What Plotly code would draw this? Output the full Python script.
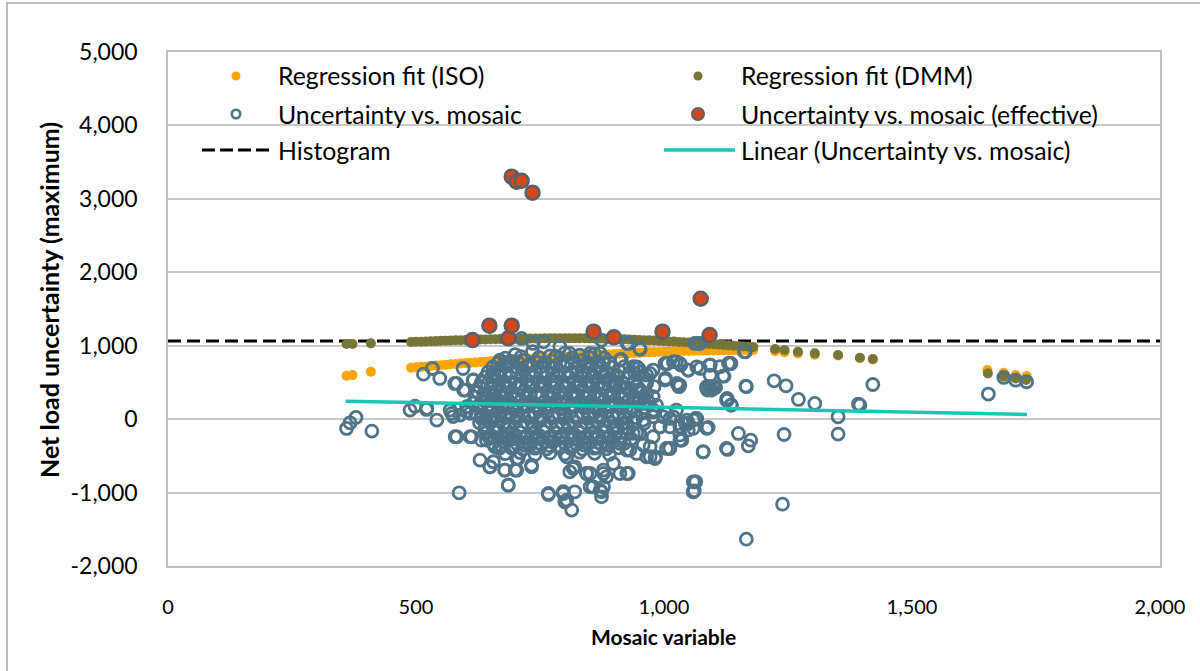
import plotly.graph_objects as go

# ---------------- data ----------------
# Regression fit (ISO)
iso_x = [360, 372, 409,
         490, 500, 510, 520, 530, 540, 550, 560, 570, 580, 590, 600, 610, 620, 630, 640,
         650, 660, 670, 680, 690, 700, 710, 720, 730, 740, 750, 760, 770, 780, 790, 800,
         810, 820, 830, 840, 850, 860, 870, 880, 890, 900, 910, 920, 930, 940, 950, 960,
         970, 980, 990, 1000, 1010, 1020, 1030, 1040, 1050, 1060, 1070, 1080, 1090, 1100,
         1110, 1120, 1130, 1140, 1150, 1160, 1170, 1180,
         1224, 1243, 1270, 1304, 1351, 1395, 1421, 1652, 1685, 1709, 1731]
iso_y = [590, 600, 645,
         700, 706, 712, 718, 724, 730, 735, 741, 747, 752, 757, 763, 768, 773, 778, 783,
         788, 792, 797, 801, 806, 810, 814, 818, 822, 826, 831, 835, 839, 844, 848, 851,
         855, 858, 861, 865, 868, 871, 875, 878, 882, 886, 890, 893, 897, 900, 903, 907,
         910, 913, 915, 918, 920, 923, 925, 927, 928, 930, 932, 933, 935, 936,
         937, 938, 939, 939, 940, 940, 940, 940,
         925, 912, 895, 876, 866, 832, 814, 668, 631, 600, 586]

# Regression fit (DMM)
dmm_x = [360, 372, 409,
         490, 500, 510, 520, 530, 540, 550, 560, 570, 580, 590, 600, 610, 620, 630, 640,
         650, 660, 670, 680, 690, 700, 710, 720, 730, 740, 750, 760, 770, 780, 790, 800,
         810, 820, 830, 840, 850, 860, 870, 880, 890, 900, 910, 920, 930, 940, 950, 960,
         970, 980, 990, 1000, 1010, 1020, 1030, 1040, 1050, 1060, 1070, 1080, 1090, 1100,
         1110, 1120, 1130, 1140, 1150, 1160, 1170, 1180,
         1224, 1243, 1270, 1304, 1351, 1395, 1421, 1653, 1685, 1709, 1730]
dmm_y = [1023, 1023, 1032,
         1050, 1053, 1055, 1058, 1061, 1063, 1066, 1069, 1071, 1074, 1076, 1078, 1080, 1082, 1084, 1086,
         1087, 1089, 1090, 1091, 1093, 1094, 1095, 1096, 1097, 1098, 1099, 1100, 1101, 1101, 1102, 1102,
         1102, 1102, 1101, 1101, 1100, 1099, 1097, 1096, 1094, 1092, 1090, 1087, 1085, 1082, 1079, 1076,
         1073, 1070, 1066, 1063, 1059, 1056, 1052, 1048, 1044, 1040, 1035, 1030, 1025, 1020,
         1015, 1010, 1005, 1001, 996, 991, 987, 982,
         955, 941, 918, 896, 873, 837, 819, 623, 578, 555, 533]

# Uncertainty vs. mosaic - dense core (main rows)
core_x = [700, 735, 770, 800, 830, 860,
          665, 690, 715, 745, 775, 805, 835, 865, 890,
          645, 668, 692, 716, 740, 764, 788, 812, 836, 860, 884, 910, 930,
          632, 655, 678, 700, 724, 748, 772, 796, 820, 844, 868, 892, 916, 940,
          625, 648, 670, 694, 718, 742, 766, 790, 814, 838, 862, 886, 910, 934, 955,
          615, 640, 662, 686, 710, 734, 758, 782, 806, 830, 854, 878, 902, 926, 950, 968,
          620, 645, 668, 692, 716, 740, 764, 788, 812, 836, 860, 884, 908, 932, 956, 978,
          628, 652, 676, 700, 724, 748, 772, 796, 820, 844, 868, 892, 916, 940, 960,
          638, 662, 686, 710, 734, 758, 782, 806, 830, 854, 878, 902, 926, 945,
          655, 680, 704, 728, 752, 776, 800, 824, 848, 872, 896, 920,
          680, 710, 740, 770, 800, 830, 860, 890]
core_y = [880, 920, 860, 900, 870, 890,
          760, 790, 800, 770, 790, 760, 800, 780, 770,
          640, 660, 630, 670, 650, 640, 660, 630, 650, 670, 640, 655, 630,
          500, 520, 510, 490, 520, 500, 515, 495, 525, 505, 490, 515, 500, 520,
          370, 350, 380, 360, 375, 350, 365, 385, 355, 370, 360, 380, 355, 375, 360,
          220, 240, 230, 215, 245, 225, 235, 210, 240, 220, 230, 245, 215, 235, 225, 240,
          80, 100, 90, 75, 105, 85, 95, 70, 100, 80, 90, 105, 80, 95, 85, 100,
          -50, -35, -60, -40, -55, -30, -45, -65, -40, -55, -35, -50, -60, -40, -55,
          -190, -175, -200, -180, -195, -170, -185, -205, -180, -195, -175, -190, -200, -185,
          -330, -315, -340, -320, -335, -310, -325, -345, -320, -335, -315, -330,
          -470, -455, -480, -460, -475, -450, -465, -480]

# Uncertainty vs. mosaic - dense core (in-between rows)
core2_x = [680, 712, 748, 782, 815, 848, 880,
           655, 680, 704, 728, 752, 776, 800, 824, 848, 872, 897, 920,
           640, 666, 690, 712, 736, 760, 784, 808, 832, 856, 880, 904, 928,
           628, 652, 682, 706, 730, 754, 778, 802, 826, 850, 874, 898, 922, 946,
           620, 644, 674, 698, 722, 746, 770, 794, 818, 842, 866, 890, 914, 938, 960,
           628, 652, 674, 698, 722, 746, 770, 794, 818, 842, 866, 890, 914, 938, 962,
           632, 656, 680, 704, 728, 752, 776, 800, 824, 848, 872, 896, 920, 944,
           640, 664, 688, 712, 736, 760, 784, 808, 832, 856, 880, 904, 928,
           648, 672, 696, 720, 744, 768, 792, 816, 840, 864, 888, 912, 934,
           668, 692, 716, 740, 764, 788, 812, 836, 860, 884, 908]
core2_y = [830, 850, 840, 855, 835, 845, 830,
           710, 720, 700, 725, 715, 705, 720, 700, 715, 725, 705, 715,
           575, 590, 570, 585, 580, 565, 590, 575, 585, 570, 580, 590, 570,
           440, 430, 445, 425, 440, 450, 430, 445, 435, 450, 425, 440, 430, 445,
           300, 290, 305, 285, 300, 310, 295, 290, 305, 285, 300, 310, 290, 300, 295,
           160, 150, 165, 155, 170, 150, 160, 145, 165, 155, 160, 170, 150, 160, 155,
           20, 10, 25, 15, 30, 5, 20, 10, 25, 15, 20, 30, 10, 20,
           -120, -110, -125, -105, -130, -115, -120, -110, -125, -115, -105, -120, -130,
           -260, -250, -270, -255, -265, -245, -260, -275, -250, -265, -255, -260, -270,
           -400, -390, -410, -395, -405, -385, -400, -410, -395, -405, -390]

# Uncertainty vs. mosaic - dense core (innermost fill)
core3_x = [680, 705, 730, 760, 790, 820, 850, 878,
           657, 680, 704, 728, 752, 776, 800, 824, 848, 872, 897,
           644, 667, 690, 712, 736, 760, 784, 808, 832, 856, 880, 904,
           636, 660, 682, 706, 730, 754, 778, 802, 826, 850, 874, 898, 922,
           628, 652, 674, 698, 722, 746, 770, 794, 818, 842, 866, 890, 914,
           632, 656, 680, 704, 728, 752, 776, 800, 824, 848, 872, 896, 920,
           640, 664, 688, 712, 736, 760, 784, 808, 832, 856, 880, 904,
           652, 676, 700, 724, 748, 772, 796, 820, 844, 868, 892,
           672, 696, 720, 744, 768, 792, 816, 840, 864, 888]
core3_y = [765, 780, 750, 770, 760, 775, 755, 765,
           625, 615, 635, 620, 630, 610, 625, 640, 620, 630, 615,
           480, 470, 490, 475, 485, 465, 480, 490, 470, 485, 475, 480,
           340, 330, 350, 335, 345, 325, 340, 350, 330, 345, 335, 340, 330,
           195, 185, 205, 190, 200, 180, 195, 205, 185, 200, 190, 195, 185,
           55, 45, 65, 50, 60, 40, 55, 65, 45, 60, 50, 55, 45,
           -85, -95, -75, -90, -80, -100, -85, -75, -95, -80, -90, -85,
           -225, -235, -215, -230, -220, -240, -225, -215, -235, -220, -230,
           -365, -375, -355, -370, -360, -380, -365, -355, -375, -360]

# Uncertainty vs. mosaic - scattered points
spread_x = [360, 367, 379, 411, 488, 498, 521, 542, 515, 533, 548, 578, 582, 587, 595, 599,
            615, 572, 589, 602, 612, 632, 629, 649, 679, 686, 703, 706, 733, 642, 659, 683,
            669, 652, 656, 642, 662, 676, 582, 616, 596, 522, 569, 575, 602, 609, 639, 646,
            653, 632, 579, 609, 656,
            713, 736, 757, 790, 810, 851, 874, 928, 951, 911, 945, 972, 1005, 1025, 1032, 1049,
            1066, 1062,
            871, 898, 911, 931, 951, 972, 992, 1012, 1035, 1049, 1059, 965, 982, 911, 928, 898,
            851, 878, 871, 857, 874, 844, 817, 804, 820, 804, 814, 797, 767, 1059, 1059, 1012,
            979, 999, 1019, 958, 938, 911, 938, 965, 985,
            1072, 1093, 1093, 1121, 1134, 1164, 1086, 1096, 1104, 1128, 1136, 1165, 1222, 1246,
            1271, 1304, 1395, 1392, 1421, 1351, 1351, 1242, 1239, 1166, 1064, 1061, 1079, 1128,
            1150, 1175, 1170, 1089, 1064, 1043, 1011, 983, 1036, 1654, 1685, 1709, 1731,
            925, 952, 914, 871, 949, 941, 964, 980, 945, 1007, 1034, 1003, 1026, 1030, 1073,
            1092, 1135, 1119, 1092, 1088, 1127, 1135, 1166, 1162, 1071,
            938, 952, 965, 978, 1002, 1019, 1032, 1049, 1093, 1113, 1130, 1002, 1029, 1086,
            1099, 1126, 1012, 1032, 1049, 1066, 1086, 1126, 1005, 1032, 1079, 1062, 1059, 925,
            884, 851, 874, 878, 810, 820, 844, 878, 767, 797, 800, 686, 700, 733, 649, 656,
            679, 703,
            898, 911, 925, 938, 958, 972, 945, 925, 978, 992, 978, 1005, 1025, 1046, 1059, 1032,
            898, 918, 938, 958, 925, 952, 978, 965, 884, 894]
spread_y = [-127, -50, 23, -163, 123, 177, 132, -13, 613, 690, 554, 486, -241, -1003, 690, 395,
            531, 77, 55, 100, -241, -286, -558, -649, -695, -899, -695, -536, -649, -286, -377, -263,
            804, 577, 350, 32, -150, 123, 487, 533, 396, 147, 124, 35, 170, 79, 328, 147,
            10, 10, -239, -239, -148,
            1099, 1031, 1053, 985, 895, 895, 1076, 1031, 963, 804, 713, 622, 758, 781, 463, 668,
            713, 1031,
            123, -104, -331, -422, -195, -377, -104, -399, -286, -59, -13, -513, -536, -740, -740, -604,
            -740, -740, -967, -922, -1058, -740, -672, -513, -990, -1103, -1239, -1013, -1026, -853, -990, -104,
            123, 32, 32, -13, 259, 441, 486, 350, 191,
            1031, 736, 599, 586, 758, 917, 441, 395, 431, 259, 191, 450, 522, 454,
            268, 214, 191, 205, 472, 32, -204, -209, -1158, -1634, -853, -976, -445, -413,
            -195, -286, -363, -113, 9, -59, -399, -513, -286, 341, 568, 531, 509,
            1032, 950, 814, 896, 691, 623, 510, 442, 396, 759, 737, 555, 487, 442, 691,
            737, 759, 587, 442, 396, 283, 192, 442, 919, 1032,
            714, 645, 600, 668, 759, 782, 759, 668, 736, 714, 759, 532, 464, 418,
            441, 260, 10, -104, -149, 10, -126, -399, -399, -285, -444, -853, -989, -739,
            -785, -921, -989, -921, -717, -649, -739, -694, -1012, -989, -1125, -898, -694, -626, -649, -580,
            -694, -535,
            -149, -240, -58, -194, -353, -512, -467, -421, -240, -104, 33, 78, 124, -13, -126, -217,
            350, 487, 305, 214, 169, 396, 305, 487, 532, 169]

# Uncertainty vs. mosaic (effective)
eff_x = [614, 648, 686, 693, 693, 703, 713, 735, 858, 899, 997, 1074, 1092]
eff_y = [1077, 1273, 1100, 1273, 3302, 3234, 3247, 3084, 1191, 1114, 1191, 1640, 1145]

# Histogram level and linear trend endpoints
hist_x = [0, 2000]
hist_y = [1065, 1065]
trend_x = [358, 1732]
trend_y = [245, 64]

x_ticks = [0, 500, 1000, 1500, 2000]
x_tick_text = ["0", "500", "1,000", "1,500", "2,000"]
y_ticks = [-2000, -1000, 0, 1000, 2000, 3000, 4000, 5000]
y_tick_text = ["-2,000", "-1,000", "0", "1,000", "2,000", "3,000", "4,000", "5,000"]

legend_names = ["Regression fit (ISO)", "Regression fit (DMM)", "Uncertainty vs. mosaic",
                "Uncertainty vs. mosaic (effective)", "Histogram", "Linear (Uncertainty vs. mosaic)"]

# ---------------- styling ----------------
C_ISO = "#FFA400"
C_DMM = "#757638"
C_UNC = "#4F7389"
C_EFF = "#D14A1F"
C_EFF_LINE = "#56616A"
C_TREND = "#14C8B4"
FONT = "Lato"

W, H = 1200, 671
L, R, T, B = 168, 40, 52, 105
PW, PH = W - L - R, H - T - B


def px(xp):
    return (xp - L) / PW


def py(yp):
    return (H - B - yp) / PH


fig = go.Figure()
fig.add_trace(go.Scatter(x=hist_x, y=hist_y, mode="lines", name=legend_names[4],
                         line=dict(color="black", width=3, dash="13px,6px"), showlegend=False))
fig.add_trace(go.Scatter(x=iso_x, y=iso_y, mode="markers", name=legend_names[0],
                         marker=dict(color=C_ISO, size=10, line=dict(width=0)), showlegend=False))
fig.add_trace(go.Scatter(x=dmm_x, y=dmm_y, mode="markers", name=legend_names[1],
                         marker=dict(color=C_DMM, size=10, line=dict(width=0)), showlegend=False))
fig.add_trace(go.Scatter(x=core_x + core2_x + core3_x + spread_x,
                         y=core_y + core2_y + core3_y + spread_y,
                         mode="markers", name=legend_names[2],
                         marker=dict(color="rgba(0,0,0,0)", size=12,
                                     line=dict(color=C_UNC, width=2.8)), showlegend=False))
fig.add_trace(go.Scatter(x=eff_x, y=eff_y, mode="markers", name=legend_names[3],
                         marker=dict(color=C_EFF, size=14, line=dict(color=C_EFF_LINE, width=2.5)),
                         showlegend=False))
fig.add_trace(go.Scatter(x=trend_x, y=trend_y, mode="lines", name=legend_names[5],
                         line=dict(color=C_TREND, width=3.5), showlegend=False))

shapes = []
annotations = []

# outer chart frame
shapes.append(dict(type="rect", xref="paper", yref="paper",
                   x0=px(7), x1=px(1260), y0=py(720), y1=py(3),
                   line=dict(color="#A6A6A6", width=1.5), layer="below"))

# manual legend (2 columns x 3 rows)
col1_sym, col2_sym = 236, 698
col1_txt, col2_txt = 276, 739
rows = [76, 114, 150]


def circ(cx, cy, r, fill, lc, lw):
    return dict(type="circle", xref="paper", yref="paper",
                x0=px(cx - r), x1=px(cx + r), y0=py(cy + r), y1=py(cy - r),
                fillcolor=fill, line=dict(color=lc, width=lw))


shapes.append(circ(col1_sym, rows[0], 4.5, C_ISO, C_ISO, 0))
shapes.append(circ(col2_sym, rows[0], 4.5, C_DMM, C_DMM, 0))
shapes.append(circ(col1_sym, rows[1], 4.2, "rgba(0,0,0,0)", C_UNC, 2.6))
shapes.append(circ(col2_sym, rows[1], 6, C_EFF, C_EFF_LINE, 2))
shapes.append(dict(type="line", xref="paper", yref="paper",
                   x0=px(202), x1=px(271), y0=py(rows[2]), y1=py(rows[2]),
                   line=dict(color="black", width=3, dash="13px,5px")))
shapes.append(dict(type="line", xref="paper", yref="paper",
                   x0=px(664), x1=px(735), y0=py(rows[2]), y1=py(rows[2]),
                   line=dict(color=C_TREND, width=3.5)))

legend_pos = [(col1_txt, rows[0]), (col2_txt, rows[0]), (col1_txt, rows[1]),
              (col2_txt, rows[1]), (col1_txt, rows[2]), (col2_txt, rows[2])]
for name, (tx, ty) in zip(legend_names, legend_pos):
    annotations.append(dict(text=name, xref="paper", yref="paper", x=px(tx), y=py(ty),
                            xanchor="left", yanchor="middle", showarrow=False,
                            font=dict(family=FONT, size=24.8, color="#000000")))

# axis titles
annotations.append(dict(text="<b>Net load uncertainty (maximum)</b>", xref="paper", yref="paper",
                        x=px(49), y=py(300), xanchor="center", yanchor="middle", textangle=-90,
                        showarrow=False, font=dict(family=FONT, size=25, color="#000000")))
annotations.append(dict(text="<b>Mosaic variable</b>", xref="paper", yref="paper",
                        x=px(663), y=py(636), xanchor="center", yanchor="middle",
                        showarrow=False, font=dict(family=FONT, size=21, color="#000000")))

fig.update_layout(
    width=W, height=H,
    margin=dict(l=L, r=R, t=T, b=B, pad=0),
    paper_bgcolor="white", plot_bgcolor="white",
    showlegend=False,
    shapes=shapes, annotations=annotations,
    font=dict(family=FONT, color="#000000"),
    xaxis=dict(range=[0, 2000], tickvals=x_ticks, ticktext=x_tick_text, showgrid=False,
               zeroline=False, showline=True, mirror=True, linecolor="#BFBFBF", linewidth=1.5,
               ticks="", ticklabelstandoff=22, tickfont=dict(family=FONT, size=20, color="#000000")),
    yaxis=dict(range=[-2000, 5000], tickvals=y_ticks, ticktext=y_tick_text, showgrid=True,
               gridcolor="#C8C8C8", gridwidth=1.5, zeroline=False, showline=True, mirror=True,
               linecolor="#BFBFBF", linewidth=1.5, ticks="", ticklabelstandoff=24,
               tickfont=dict(family=FONT, size=23, color="#000000")),
)

fig.write_html("out.html")
